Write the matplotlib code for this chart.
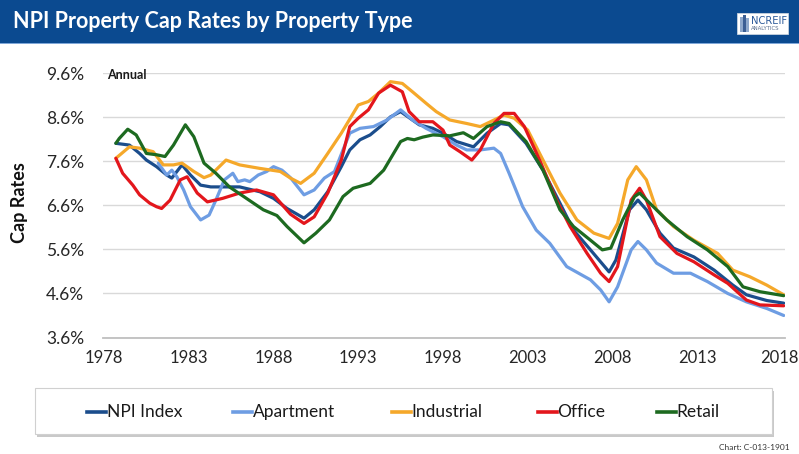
import matplotlib
matplotlib.use("Agg")
import matplotlib.pyplot as plt
from matplotlib.patches import Rectangle
from matplotlib.lines import Line2D
import matplotlib.transforms as mtransforms

plt.rcParams['font.family'] = ['Lato', 'DejaVu Sans']

# ---------------- data ----------------
npi_years = [1978.7, 1979.5, 1980.1, 1980.5, 1981.1, 1981.7, 1982.0, 1982.6, 1983.1, 1983.7,
             1984.3, 1985.2, 1986.0, 1987.2, 1988.0, 1988.8, 1989.8, 1990.4, 1991.2, 1992.0,
             1992.5, 1993.1, 1993.7, 1994.3, 1994.9, 1995.5, 1996.6, 1997.4, 1998.0, 1998.8,
             1999.8, 2000.6, 2001.4, 2001.9, 2002.9, 2003.9, 2004.9, 2005.7, 2006.7, 2007.8,
             2008.2, 2009.0, 2009.5, 2010.0, 2010.8, 2011.6, 2012.8, 2014.0, 2015.1, 2015.9,
             2017.1, 2018.1]
npi_vals = [8.01, 7.97, 7.78, 7.63, 7.48, 7.29, 7.22, 7.52, 7.29, 7.06,
            7.02, 7.02, 7.02, 6.91, 6.76, 6.53, 6.31, 6.50, 6.91, 7.48,
            7.86, 8.09, 8.20, 8.39, 8.61, 8.73, 8.43, 8.35, 8.24, 8.05,
            7.93, 8.24, 8.46, 8.43, 8.01, 7.40, 6.65, 6.04, 5.59, 5.09,
            5.36, 6.50, 6.72, 6.50, 5.97, 5.63, 5.43, 5.13, 4.79, 4.57,
            4.44, 4.38]

apt_years = [1981.2, 1981.7, 1982.0, 1982.3, 1982.7, 1983.1, 1983.7, 1984.2, 1984.6, 1985.1,
             1985.6, 1985.9, 1986.3, 1986.6, 1987.1, 1987.6, 1988.0, 1988.5, 1989.0, 1989.8,
             1990.4, 1991.0, 1991.6, 1992.1, 1992.5, 1993.1, 1993.9, 1994.7, 1995.5, 1996.2,
             1997.0, 1998.0, 1998.8, 1999.4, 2000.2, 2001.0, 2001.4, 2001.9, 2002.7, 2003.5,
             2004.3, 2005.3, 2006.7, 2007.3, 2007.8, 2008.3, 2009.1, 2009.5, 2010.0, 2010.6,
             2011.6, 2012.6, 2013.6, 2014.8, 2015.9, 2017.1, 2018.1]
apt_vals = [7.56, 7.29, 7.40, 7.25, 6.95, 6.57, 6.27, 6.38, 6.72, 7.18,
            7.33, 7.14, 7.18, 7.14, 7.29, 7.37, 7.48, 7.40, 7.23, 6.84,
            6.95, 7.22, 7.37, 7.86, 8.24, 8.35, 8.39, 8.54, 8.77, 8.54,
            8.35, 8.16, 7.97, 7.86, 7.86, 7.90, 7.78, 7.33, 6.57, 6.04,
            5.74, 5.21, 4.91, 4.68, 4.41, 4.75, 5.59, 5.78, 5.59, 5.29,
            5.06, 5.06, 4.87, 4.60, 4.41, 4.26, 4.10]

ind_years = [1978.7, 1979.5, 1980.1, 1980.9, 1981.5, 1982.1, 1982.6, 1983.3, 1983.9, 1984.3,
             1985.2, 1986.0, 1987.2, 1988.4, 1989.0, 1989.6, 1990.4, 1991.2, 1992.0, 1993.0,
             1993.6, 1994.2, 1994.9, 1995.6, 1996.2, 1997.0, 1997.6, 1998.4, 1999.4, 2000.2,
             2000.8, 2001.6, 2002.2, 2003.0, 2003.9, 2004.9, 2005.9, 2006.9, 2007.8, 2008.3,
             2008.9, 2009.4, 2010.0, 2010.6, 2011.6, 2012.8, 2014.2, 2015.1, 2016.1, 2017.1,
             2018.1]
ind_vals = [7.67, 7.93, 7.90, 7.82, 7.52, 7.52, 7.56, 7.37, 7.23, 7.29,
            7.63, 7.52, 7.44, 7.37, 7.22, 7.10, 7.33, 7.78, 8.24, 8.88,
            8.96, 9.15, 9.41, 9.37, 9.18, 8.92, 8.73, 8.54, 8.46, 8.39,
            8.50, 8.65, 8.58, 8.31, 7.63, 6.88, 6.27, 5.97, 5.85, 6.19,
            7.18, 7.48, 7.18, 6.50, 6.12, 5.81, 5.51, 5.13, 4.98, 4.79,
            4.57]

off_years = [1978.7, 1979.1, 1979.7, 1980.1, 1980.7, 1981.1, 1981.4, 1981.9, 1982.5, 1982.9,
             1983.5, 1984.1, 1985.0, 1986.0, 1987.0, 1988.0, 1989.0, 1989.8, 1990.4, 1991.2,
             1992.0, 1992.5, 1993.0, 1993.6, 1994.2, 1994.9, 1995.6, 1996.0, 1996.6, 1997.4,
             1998.0, 1998.4, 1999.0, 1999.7, 2000.2, 2001.0, 2001.6, 2002.2, 2002.8, 2003.7,
             2004.7, 2005.5, 2006.5, 2007.3, 2007.8, 2008.3, 2009.1, 2009.6, 2010.0, 2010.8,
             2011.8, 2012.8, 2014.0, 2014.8, 2015.9, 2016.7, 2018.1]
off_vals = [7.67, 7.33, 7.06, 6.84, 6.65, 6.57, 6.53, 6.72, 7.18, 7.25,
            6.88, 6.68, 6.76, 6.88, 6.95, 6.84, 6.40, 6.19, 6.34, 6.88,
            7.63, 8.39, 8.58, 8.77, 9.15, 9.33, 9.18, 8.73, 8.50, 8.50,
            8.31, 7.97, 7.82, 7.63, 7.86, 8.46, 8.69, 8.69, 8.39, 7.63,
            6.72, 6.12, 5.51, 5.06, 4.87, 5.21, 6.72, 6.99, 6.72, 5.89,
            5.51, 5.32, 5.02, 4.83, 4.45, 4.34, 4.32]

ret_years = [1978.7, 1978.9, 1979.4, 1979.9, 1980.5, 1981.1, 1981.6, 1982.1, 1982.8, 1983.3,
             1983.9, 1984.6, 1985.4, 1986.4, 1987.4, 1988.2, 1988.8, 1989.8, 1990.5, 1991.3,
             1992.1, 1992.7, 1993.7, 1994.5, 1995.5, 1995.9, 1996.3, 1996.8, 1997.4, 1998.4,
             1999.2, 1999.8, 2000.6, 2001.4, 2001.9, 2002.9, 2003.9, 2004.9, 2005.7, 2006.7,
             2007.4, 2007.9, 2008.6, 2009.3, 2009.6, 2010.2, 2011.2, 2012.4, 2013.6, 2014.8,
             2015.7, 2016.7, 2018.1]
ret_vals = [8.01, 8.12, 8.33, 8.20, 7.78, 7.75, 7.71, 7.97, 8.43, 8.16,
            7.56, 7.33, 7.02, 6.76, 6.50, 6.37, 6.12, 5.75, 5.97, 6.27,
            6.80, 6.99, 7.10, 7.40, 8.05, 8.12, 8.09, 8.15, 8.20, 8.18,
            8.25, 8.12, 8.39, 8.50, 8.46, 8.05, 7.40, 6.50, 6.12, 5.81,
            5.59, 5.63, 6.27, 6.80, 6.88, 6.65, 6.27, 5.89, 5.59, 5.21,
            4.75, 4.64, 4.55]

series_names = ["NPI Index", "Apartment", "Industrial", "Office", "Retail"]
series_colors = ["#1B4D8C", "#6E9DE3", "#F5A82A", "#E3161C", "#1D6A20"]

x_tick_years = [1978, 1983, 1988, 1993, 1998, 2003, 2008, 2013, 2018]
y_ticks = [3.6, 4.6, 5.6, 6.6, 7.6, 8.6, 9.6]

# ---------------- figure ----------------
W, H = 799, 454
fig = plt.figure(figsize=(W / 100, H / 100), dpi=100)
fig.patch.set_facecolor("white")

def fx(px):
    return px / W

def fy(py):
    return 1 - py / H

# title bar
fig.patches.append(Rectangle((0, fy(43)), 1, 43 / H, transform=fig.transFigure,
                             facecolor="#0B4A90", edgecolor="none", zorder=0))
fig.patches.append(Rectangle((0, fy(44)), 1, 1.2 / H, transform=fig.transFigure,
                             facecolor="#7FA7D8", edgecolor="none", zorder=0))
fig.text(fx(13), fy(22), "NPI Property Cap Rates by Property Type", color="white",
         fontsize=15.5, fontweight="bold", va="center", ha="left")

# logo
fig.patches.append(Rectangle((fx(737), fy(34)), 51 / W, 21 / H, transform=fig.transFigure,
                             facecolor="white", edgecolor="#C8D3E0", linewidth=0.6, zorder=1))
for bx, bh, c in [(740, 15, "#8FA9CC"), (743, 17, "#3C5F94"), (746, 14, "#8FA9CC")]:
    fig.patches.append(Rectangle((fx(bx), fy(32)), 2.5 / W, bh / H, transform=fig.transFigure,
                                 facecolor=c, edgecolor="none", zorder=2))
fig.text(fx(751), fy(20.5), "NCREIF", color="#2C5A9A", fontsize=7.2, va="center", ha="left",
         family=["DejaVu Sans"])
fig.text(fx(751), fy(29), "ANALYTICS", color="#5A6F8F", fontsize=3.9, va="center", ha="left",
         family=["DejaVu Sans"])

# axes
ax_left, ax_right = 103, 785
ax_top, ax_bottom = 73.3, 337.5
ax = fig.add_axes([fx(ax_left), fy(ax_bottom), (ax_right - ax_left) / W, (ax_bottom - ax_top) / H])
ax.set_facecolor("none")

series = [(npi_years, npi_vals), (apt_years, apt_vals), (ind_years, ind_vals),
          (off_years, off_vals), (ret_years, ret_vals)]
for (xs, ys), name, col in zip(series, series_names, series_colors):
    ax.plot(xs, ys, color=col, linewidth=2.3, solid_joinstyle="round",
            solid_capstyle="round", label=name, zorder=3)

px_per_year = 16.95
ax.set_xlim(1978 - 1 / px_per_year, 1978 + (ax_right - 104) / px_per_year)
ax.set_ylim(3.6, 9.6)
ax.set_yticks(y_ticks)
ax.set_yticklabels([f"{v:.1f}%" for v in y_ticks])
ax.set_xticks(x_tick_years)
ax.set_xticklabels([str(y) for y in x_tick_years])
ax.grid(axis="y", color="#D9D9D9", linewidth=1.0, zorder=0)
ax.grid(axis="x", visible=False)
for s in ["top", "right", "left"]:
    ax.spines[s].set_visible(False)
ax.spines["bottom"].set_color("#BFBFBF")
ax.spines["bottom"].set_linewidth(1.3)
ax.tick_params(axis="y", length=0, colors="#262626", labelsize=12.5, pad=13.5)
ax.tick_params(axis="x", length=0, colors="#262626", labelsize=12, pad=9)
ax.set_axisbelow(True)

# keep the last year label inside the canvas (reference shows it hugging the edge)
last_lbl = ax.get_xticklabels()[-1]
last_lbl.set_transform(last_lbl.get_transform() +
                       mtransforms.ScaledTranslation(-3 / 100, 0, fig.dpi_scale_trans))

fig.text(fx(107), fy(75), "Annual", fontsize=9, fontweight="bold", color="#1A1A1A",
         va="center", ha="left")
fig.text(fx(19), fy(203), "Cap Rates", fontsize=13, fontweight="bold", color="#111111",
         rotation=90, va="center", ha="center")

# legend box with shadow
fig.patches.append(Rectangle((fx(37), fy(436.5)), (772 - 35) / W, (434 - 388) / H,
                             transform=fig.transFigure, facecolor="#C9C9C9",
                             edgecolor="none", zorder=1))
fig.patches.append(Rectangle((fx(35), fy(434)), (772 - 35) / W, (434 - 388) / H,
                             transform=fig.transFigure, facecolor="white",
                             edgecolor="#D0D0D0", linewidth=0.8, zorder=2))
leg_line_x = [87, 233, 392, 538, 657]
leg_y = 412
for lx, name, col in zip(leg_line_x, series_names, series_colors):
    fig.lines.append(Line2D([fx(lx), fx(lx + 19)], [fy(leg_y), fy(leg_y)],
                            transform=fig.transFigure, color=col, linewidth=2.6, zorder=3))
    fig.text(fx(lx + 19.5), fy(leg_y), name, fontsize=12.5, color="#1A1A1A",
             va="center", ha="left", zorder=3)

fig.text(fx(790), fy(447), "Chart: C-013-1901", fontsize=6, color="#333333",
         va="center", ha="right")

fig.savefig("out.png", dpi=100)
